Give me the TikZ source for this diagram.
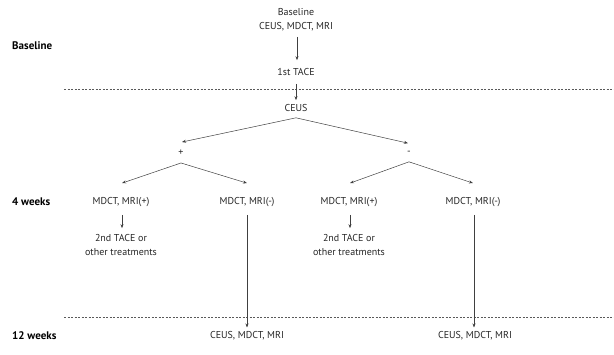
\documentclass[tikz,border=0pt]{standalone}
\usepackage{fontspec}
\setmainfont{PT Sans}
\usetikzlibrary{arrows.meta}
\begin{document}
\begin{tikzpicture}[x=1pt,y=-1pt,
  txt/.style={font=\fontsize{10}{14}\selectfont, text=black!85, inner sep=1pt, align=center},
  lbl/.style={font=\fontsize{11}{13}\selectfont\bfseries, text=black, inner sep=0pt, anchor=west},
  arr/.style={draw=black!75, line width=0.5pt, -{Stealth[length=4pt,width=3pt]}},
  sep/.style={draw=black!65, dash pattern=on 2pt off 1.5pt, line width=0.5pt}]
\useasboundingbox (0,0) rectangle (614,355);
% row labels
\node[lbl] (lbase) at (12,46) {Baseline};
\node[lbl] (l4) at (12,202) {4 weeks};
\node[lbl] (l12) at (12,336) {12 weeks};
% separators
\coordinate (s1a) at (64,89); \coordinate (s1b) at (614,89);
\coordinate (s2a) at (64,317); \coordinate (s2b) at (614,317);
\path[sep] (s1a) -- (s1b);
\path[sep] (s2a) -- (s2b);
% nodes
\node[txt] (base) at (296,19.5) {Baseline\\CEUS, MDCT, MRI};
\node[txt] (tace) at (296,72) {1st TACE};
\node[txt] (ceus) at (296,108) {CEUS};
\node[txt] (plus) at (181,153) {+};
\node[txt] (minus) at (409,153) {-};
\node[txt] (pp) at (121,202) {MDCT, MRI(+)};
\node[txt] (pm) at (247,202) {MDCT, MRI(-)};
\node[txt] (mp) at (349,202) {MDCT, MRI(+)};
\node[txt] (mm) at (473,202) {MDCT, MRI(-)};
\node[txt] (t2a) at (121,245) {2nd TACE or\\other treatments};
\node[txt] (t2b) at (349,245) {2nd TACE or\\other treatments};
\node[txt] (f1) at (247,336) {CEUS, MDCT, MRI};
\node[txt] (f2) at (475,336) {CEUS, MDCT, MRI};
% connectors
\path[arr] ([xshift=1pt,yshift=-5pt]base.south) -- ([xshift=1pt,yshift=7pt]tace.north);
\path[arr] ([yshift=-7pt]tace.south) -- ([yshift=3pt]ceus.north);
\path[arr] ([yshift=-5pt]ceus.south) -- ([xshift=1pt,yshift=7pt]plus.north);
\path[arr] ([yshift=-5pt]ceus.south) -- ([xshift=-1pt,yshift=7pt]minus.north);
\path[arr] ([yshift=-6pt]plus.south) -- ([xshift=1pt,yshift=13pt]pp.north);
\path[arr] ([yshift=-6pt]plus.south) -- ([yshift=13pt]pm.north);
\path[arr] ([yshift=-6pt]minus.south) -- ([xshift=1pt,yshift=13pt]mp.north);
\path[arr] ([yshift=-6pt]minus.south) -- ([yshift=13pt]mm.north);
\path[arr] ([xshift=1pt,yshift=-7pt]pp.south) -- ([xshift=1pt,yshift=5pt]t2a.north);
\path[arr] ([xshift=1pt,yshift=-7pt]mp.south) -- ([xshift=1pt,yshift=5pt]t2b.north);
\path[arr] ([yshift=-7pt]pm.south) -- ([yshift=3pt]f1.north);
\path[arr] ([xshift=1pt,yshift=-7pt]mm.south) -- ([xshift=-1pt,yshift=3pt]f2.north);
\end{tikzpicture}
\end{document}
